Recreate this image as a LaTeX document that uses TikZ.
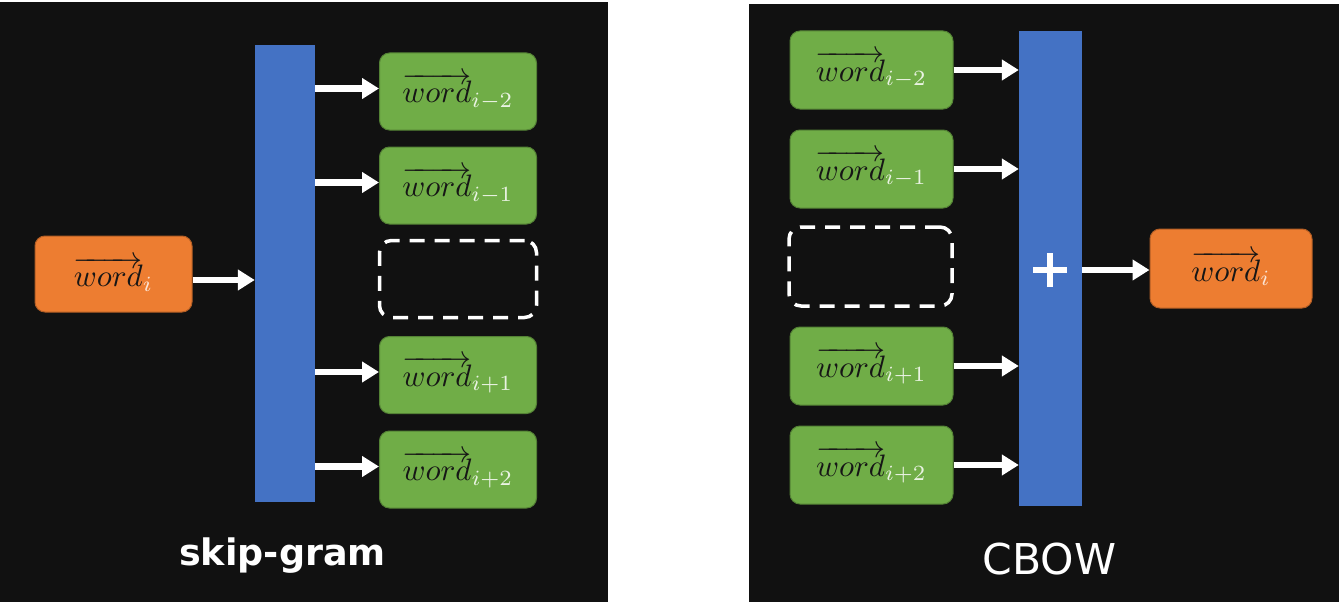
\documentclass[tikz,border=0pt]{standalone}
\usepackage{graphicx}
\usepackage{fontspec}
\newfontfamily\labfont{DejaVu Sans}
\usetikzlibrary{arrows.meta}
\definecolor{bgc}{RGB}{17,17,17}
\definecolor{barc}{RGB}{68,114,196}
\definecolor{grc}{RGB}{112,173,71}
\definecolor{orc}{RGB}{237,125,49}
\definecolor{txc}{RGB}{22,22,22}
\newcommand\wordvec[2]{\scalebox{3.1}{\color{txc}$\overrightarrow{word}_{\textcolor{#2}{#1}}$}}
\begin{document}
\begin{tikzpicture}[x=1pt,y=-1pt,
  bar/.style={rectangle, fill=barc, draw=none, inner sep=0pt},
  wbox/.style={rectangle, rounded corners=10pt, inner sep=0pt},
  gbox/.style={wbox, fill=grc, draw=grc!75!black, line width=1pt, minimum width=157pt, minimum height=77pt},
  rgbox/.style={gbox, minimum width=163pt, minimum height=78pt},
  obox/.style={wbox, fill=orc, draw=orc!75!black, line width=1pt},
  dbox/.style={rectangle, rounded corners=12pt, draw=white, line width=3.5pt, dash pattern=on 15pt off 10pt, inner sep=0pt},
  arr/.style={draw=white, line width=6.5pt, -{Triangle[width=20pt,length=17pt]}},
  lab/.style={text=white, anchor=base, inner sep=0pt}
]
\useasboundingbox (0,0) rectangle (1339,602);
\fill[white] (0,0) rectangle (1339,602);
\fill[bgc] (0,2) rectangle (608,602);
\fill[bgc] (749,4) rectangle (1339,602);

% ---------- skip-gram ----------
\node[bar, minimum width=60pt, minimum height=457pt] (sbar) at (285,273.5) {};
\node[obox, minimum width=157pt, minimum height=76pt] (sin) at (113.5,274) {\wordvec{i}{white!80!orc}};
\node[gbox] (s1) at (458,91.5) {\wordvec{i-2}{white!85!grc}};
\node[gbox] (s2) at (458,185.5) {\wordvec{i-1}{white!85!grc}};
\node[dbox, minimum width=157pt, minimum height=77pt] (sd) at (458,279) {};
\node[gbox] (s4) at (458,375) {\wordvec{i+1}{white!85!grc}};
\node[gbox] (s5) at (458,469.5) {\wordvec{i+2}{white!85!grc}};

\draw[arr] ([yshift=-6pt]sin.east) -- ([yshift=-6pt]sin.east -| sbar.west);
\foreach \n in {s1,s2,s4,s5}
  \draw[arr] ([yshift=3pt]\n.west -| sbar.east) -- ([yshift=3pt]\n.west);

\node[lab, font=\labfont\bfseries\fontsize{36.5}{36.5}\selectfont] (lsg) at (282.5,565) {skip-gram};

% ---------- CBOW ----------
\node[bar, minimum width=63pt, minimum height=475pt] (cbar) at (1050.5,268.5) {};
\node[rgbox] (c1) at (871.5,70) {\wordvec{i-2}{white!85!grc}};
\node[rgbox] (c2) at (871.5,169) {\wordvec{i-1}{white!85!grc}};
\node[dbox, minimum width=163pt, minimum height=79pt] (cd) at (870.5,266.5) {};
\node[rgbox] (c4) at (871.5,366) {\wordvec{i+1}{white!85!grc}};
\node[rgbox] (c5) at (871.5,465) {\wordvec{i+2}{white!85!grc}};
\node[obox, minimum width=162pt, minimum height=79pt] (cout) at (1231,268.5) {\wordvec{i}{white!80!orc}};

\foreach \n in {c1,c2,c4,c5}
  \draw[arr] (\n.east) -- (\n.east -| cbar.west);

\coordinate (plus) at (1050,270);
\draw[white, line width=6pt] ([xshift=-17pt]plus) -- ([xshift=17pt]plus);
\draw[white, line width=6pt] ([yshift=-17pt]plus) -- ([yshift=17pt]plus);
\draw[arr] (plus -| cbar.east) -- (plus -| cout.west);

\node[lab, font=\labfont\fontsize{42.5}{42.5}\selectfont] (lcb) at (1049.5,574) {CBOW};
\end{tikzpicture}
\end{document}
